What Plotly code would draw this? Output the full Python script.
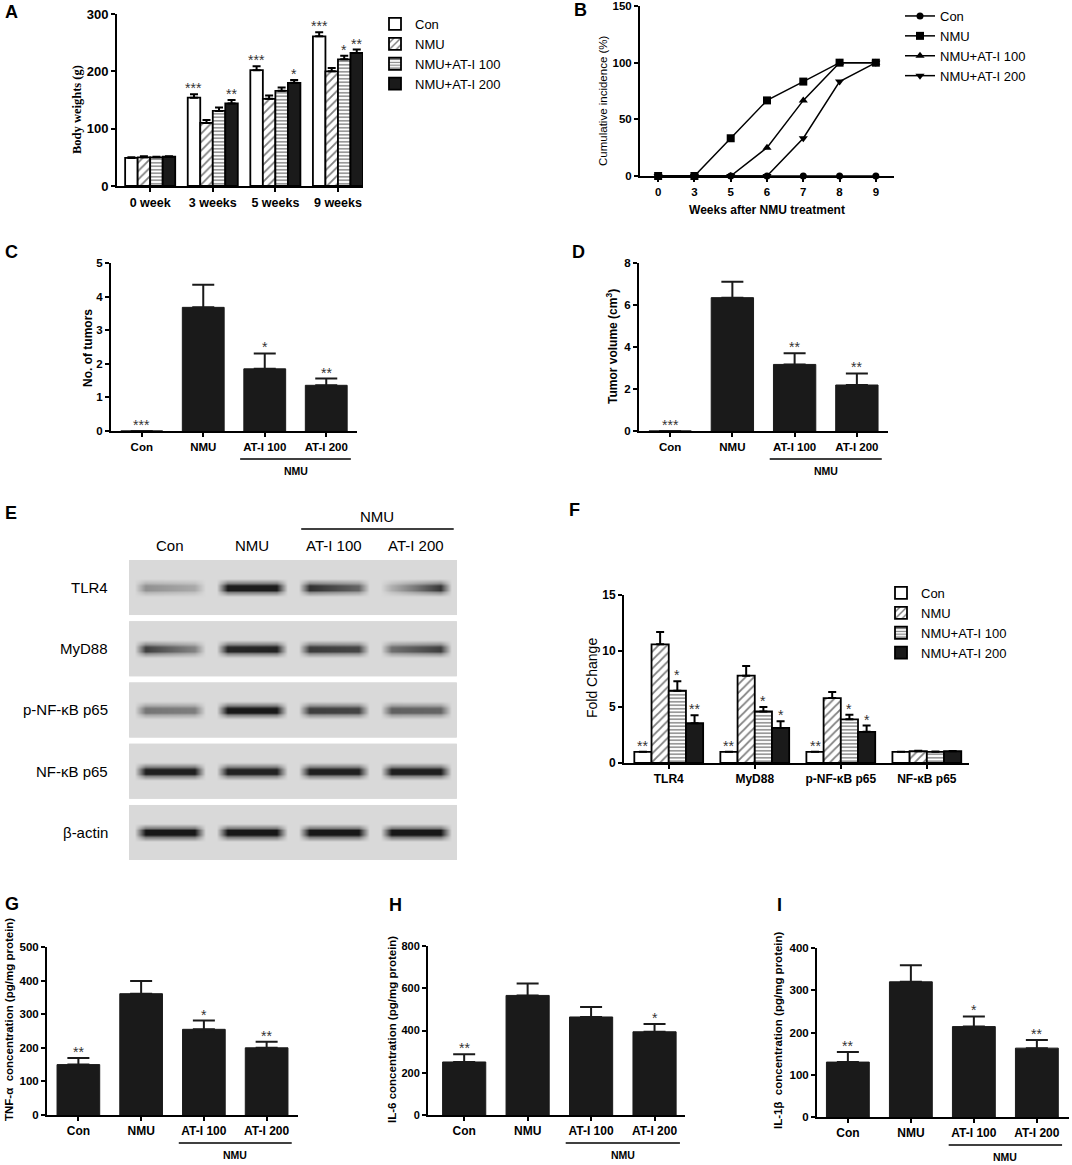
import plotly.graph_objects as go

W, H = 1072, 1165
SANS = "Liberation Sans, Arial, Helvetica, sans-serif"
SERIF = "Liberation Serif, Times New Roman, serif"


def fx(p):
    return p / W


def fy(p):
    return 1 - p / H


# ---------------- data ----------------
series_names = ['Con', 'NMU', 'NMU+AT-I 100', 'NMU+AT-I 200']

A_weeks = ['0 week', '3 weeks', '5 weeks', '9 weeks']
A_con = [49, 154, 202, 261]
A_con_sem = [1, 6, 7, 7]
A_nmu = [50, 110, 152, 200]
A_nmu_sem = [2, 5, 6, 6]
A_at100 = [50, 131, 166, 221]
A_at100_sem = [1, 6, 6, 6]
A_at200 = [51, 144, 180, 232]
A_at200_sem = [1, 6, 5, 6]
A_con_sig = ['', '***', '***', '***']
A_nmu_sig = ['', '', '', '']
A_at100_sig = ['', '', '', '*']
A_at200_sig = ['', '**', '*', '**']

B_weeks = ['0', '3', '5', '6', '7', '8', '9']
B_con = [0, 0, 0, 0, 0, 0, 0]
B_nmu = [0, 0, 33.3, 66.7, 83.3, 100, 100]
B_at100 = [0, 0, 0, 25, 66.7, 100, 100]
B_at200 = [0, 0, 0, 0, 33.3, 83.3, 100]

groups = ['Con', 'NMU', 'AT-I 100', 'AT-I 200']
C_mean = [0, 3.68, 1.85, 1.36]
C_sem = [0, 0.67, 0.46, 0.2]
C_sig = ['***', '', '*', '**']

D_mean = [0, 6.35, 3.17, 2.19]
D_sem = [0, 0.76, 0.53, 0.55]
D_sig = ['***', '', '**', '**']

E_proteins = ['TLR4', 'MyD88', 'p-NF-κB p65', 'NF-κB p65', 'β-actin']
E_lanes = ['Con', 'NMU', 'AT-I 100', 'AT-I 200']
# band darkness (0 = none, 1 = black) for left / right half of each lane
E_TLR4_left = [0.38, 0.95, 0.85, 0.22]
E_TLR4_right = [0.25, 0.95, 0.6, 0.82]
E_MyD88_left = [0.78, 0.9, 0.8, 0.55]
E_MyD88_right = [0.45, 0.92, 0.75, 0.78]
E_pNF_left = [0.52, 0.96, 0.78, 0.62]
E_pNF_right = [0.48, 0.96, 0.76, 0.6]
E_NF_left = [0.93, 0.92, 0.93, 0.94]
E_NF_right = [0.93, 0.92, 0.93, 0.94]
E_actin_left = [0.97, 0.97, 0.97, 0.97]
E_actin_right = [0.97, 0.97, 0.97, 0.97]

F_targets = ['TLR4', 'MyD88', 'p-NF-κB p65', 'NF-κB p65']
F_con = [1, 1, 1, 1]
F_con_sem = [0, 0, 0, 0]
F_nmu = [10.6, 7.8, 5.8, 1.05]
F_nmu_sem = [1.1, 0.85, 0.55, 0.05]
F_at100 = [6.45, 4.6, 3.9, 1.0]
F_at100_sem = [0.85, 0.4, 0.4, 0.03]
F_at200 = [3.55, 3.13, 2.78, 1.05]
F_at200_sem = [0.72, 0.6, 0.56, 0.03]
F_con_sig = ['**', '**', '**', '']
F_nmu_sig = ['', '', '', '']
F_at100_sig = ['*', '*', '*', '']
F_at200_sig = ['**', '*', '*', '']

G_mean = [150, 361, 255, 200]
G_sem = [20, 38, 26, 18]
G_sig = ['**', '', '*', '**']

H_mean = [251, 566, 464, 394]
H_sem = [36, 57, 47, 37]
H_sig = ['**', '', '', '*']

I_mean = [130, 320, 214, 163]
I_sem = [24, 39, 24, 19]
I_sig = ['**', '', '*', '**']

# ---------------- figure scaffolding ----------------
fig = go.Figure()
annotations = []
shapes = []
layout = dict(width=W, height=H, margin=dict(l=0, r=0, t=0, b=0),
              paper_bgcolor='white', plot_bgcolor='white',
              barmode='overlay', showlegend=True)


def axnames(i):
    s = '' if i == 1 else str(i)
    return 'xaxis' + s, 'yaxis' + s, 'x' + s, 'y' + s


BASE = dict(showline=True, linecolor='black', linewidth=2, showgrid=False,
            zeroline=False, ticks='outside', ticklen=4, tickwidth=2,
            tickcolor='black', automargin=False, fixedrange=True)


def set_axes(i, xpx, ypx, xr, yr, ncat, xlabels, ydtick=1,
             ytitle='', ytfont=None, ytx=None, yty=None,
             xtitle='', xtfont=None, xfs=12, yfs=12):
    xs, ys, xa, ya = axnames(i)
    layout[xs] = dict(BASE, domain=[fx(xpx[0]), fx(xpx[1])], range=xr,
                      anchor=ya, tickmode='array',
                      tickvals=list(range(ncat)), ticktext=xlabels,
                      tickfont=dict(family=SANS, size=xfs, color='black',
                                    weight='bold'))
    if xtitle:
        layout[xs]['title'] = dict(text=xtitle, font=xtfont, standoff=9)
    layout[ys] = dict(BASE, domain=[fy(ypx[1]), fy(ypx[0])], range=yr,
                      anchor=xa, dtick=ydtick, tick0=0,
                      tickfont=dict(family=SANS, size=yfs, color='black',
                                    weight='bold'))
    if ytitle:
        annotations.append(dict(x=fx(ytx), y=fy(yty), xref='paper',
                                yref='paper', text=ytitle, textangle=-90,
                                showarrow=False, xanchor='center',
                                yanchor='middle', font=ytfont))


def star(i, x, y, text, yshift=-4, size=14):
    _, _, xa, ya = axnames(i)
    annotations.append(dict(x=x, y=y, xref=xa, yref=ya, text=text,
                            showarrow=False, yanchor='bottom', yshift=yshift,
                            font=dict(family=SANS, size=size, color='#333')))


def nmu_bracket(i, ybottom_px):
    _, _, xa, _ = axnames(i)
    shapes.append(dict(type='line', xref=xa, yref='paper', x0=1.6, x1=3.4,
                       y0=fy(ybottom_px + 28), y1=fy(ybottom_px + 28),
                       line=dict(color='black', width=1.5)))
    annotations.append(dict(x=2.5, y=fy(ybottom_px + 40), xref=xa, yref='paper',
                            text='NMU', showarrow=False, yanchor='middle',
                            font=dict(family=SANS, size=10.5, color='black',
                                      weight='bold')))


def letter(txt, xpx, ypx):
    annotations.append(dict(x=fx(xpx), y=fy(ypx), xref='paper', yref='paper',
                            text=txt, showarrow=False, xanchor='left',
                            yanchor='middle',
                            font=dict(family=SANS, size=18, color='black',
                                      weight='bold')))


LINE = dict(color='black', width=1.8)
STYLES = [
    dict(color='white', line=LINE),
    dict(color='white', line=LINE,
         pattern=dict(shape='/', fgcolor='black', bgcolor='white', size=6,
                      solidity=0.3)),
    dict(color='white', line=LINE,
         pattern=dict(shape='-', fgcolor='black', bgcolor='white', size=3.5,
                      solidity=0.4)),
    dict(color='#1a1a1a', line=LINE),
]


def grouped(i, ncat, vals_list, sem_list, sig_list, legend, gw=0.8):
    _, _, xa, ya = axnames(i)
    n = len(vals_list)
    w = gw / n
    for j in range(n):
        off = -gw / 2 + j * w
        vals, sem = vals_list[j], sem_list[j]
        fig.add_trace(go.Bar(
            x=list(range(ncat)), y=vals, width=w, offset=off,
            xaxis=xa, yaxis=ya, marker=STYLES[j], name=series_names[j],
            legend=legend, showlegend=True, hoverinfo='skip',
            error_y=dict(type='data', array=sem, arrayminus=[0] * ncat,
                         symmetric=False, thickness=2, width=4,
                         color='black')))
        for k, s in enumerate(sig_list[j]):
            if s:
                star(i, k + off + w / 2, vals[k] + sem[k], s)


def single(i, vals, sem, sig):
    _, _, xa, ya = axnames(i)
    n = len(vals)
    fig.add_trace(go.Bar(
        x=list(range(n)), y=vals, width=0.68, xaxis=xa, yaxis=ya,
        marker=dict(color='#1a1a1a', line=dict(color='#1a1a1a', width=1)),
        showlegend=False, hoverinfo='skip',
        error_y=dict(type='data', array=sem, arrayminus=[0] * n,
                     symmetric=False, thickness=2, width=11, color='#1a1a1a')))
    for k, s in enumerate(sig):
        if s:
            star(i, k, vals[k] + sem[k], s)


BOLD12 = dict(family=SANS, size=12, color='black', weight='bold')
BOLD115 = dict(family=SANS, size=11.5, color='black', weight='bold')

# ---------------- Panel A ----------------
set_axes(1, (117, 363), (14, 186), [-0.53, 3.4], [0, 300], 4, A_weeks,
         ydtick=100, ytitle='Body weights (g)',
         ytfont=dict(family=SERIF, size=12.5, color='black', weight='bold'),
         ytx=77, yty=110, xfs=12.5, yfs=13)
grouped(1, 4, [A_con, A_nmu, A_at100, A_at200],
        [A_con_sem, A_nmu_sem, A_at100_sem, A_at200_sem],
        [A_con_sig, A_nmu_sig, A_at100_sig, A_at200_sig], 'legend')
letter('A', 3, 12)

# ---------------- Panel B ----------------
set_axes(2, (640, 894), (6, 176), [-0.5, 6.5], [0, 150], 7, B_weeks,
         ydtick=50, ytitle='Cumulative incidence (%)',
         ytfont=dict(family=SANS, size=11.5, color='black'),
         ytx=603, yty=101,
         xtitle='Weeks after NMU treatment',
         xtfont=dict(family=SANS, size=12, color='black', weight='bold'),
         xfs=11.5, yfs=11.5)
for name, vals, sym, ms in [('Con', B_con, 'circle', 7),
                            ('NMU', B_nmu, 'square', 8),
                            ('NMU+AT-I 100', B_at100, 'triangle-up', 8),
                            ('NMU+AT-I 200', B_at200, 'triangle-down', 8)]:
    fig.add_trace(go.Scatter(
        x=list(range(len(B_weeks))), y=vals, mode='lines+markers',
        xaxis='x2', yaxis='y2', name=name, legend='legend2',
        line=dict(color='black', width=1.5),
        marker=dict(symbol=sym, size=ms, color='black'),
        cliponaxis=False, hoverinfo='skip'))
letter('B', 572, 10)

# ---------------- Panel C ----------------
set_axes(3, (111, 357), (263, 431), [-0.5, 3.5], [0, 5], 4, groups,
         ydtick=1, ytitle='No. of tumors', ytfont=BOLD12, ytx=88, yty=348,
         xfs=11.5, yfs=11.5)
single(3, C_mean, C_sem, C_sig)
nmu_bracket(3, 431)
letter('C', 3, 252)

# ---------------- Panel D ----------------
set_axes(4, (639, 888), (263, 431), [-0.5, 3.5], [0, 8], 4, groups,
         ydtick=2, ytitle='Tumor volume (cm<sup>3</sup>)', ytfont=BOLD12,
         ytx=612, yty=347, xfs=11.5, yfs=11.5)
single(4, D_mean, D_sem, D_sig)
nmu_bracket(4, 431)
letter('D', 570, 252)

# ---------------- Panel E (western blot) ----------------
layout['xaxis5'] = dict(domain=[fx(129), fx(457)], range=[0, 4], visible=False,
                        anchor='y5', fixedrange=True)
layout['yaxis5'] = dict(domain=[fy(863.1), fy(556.9)], range=[4.5, -0.5],
                        visible=False, anchor='x5', fixedrange=True)
E_rows = [(E_TLR4_left, E_TLR4_right), (E_MyD88_left, E_MyD88_right),
          (E_pNF_left, E_pNF_right), (E_NF_left, E_NF_right),
          (E_actin_left, E_actin_right)]
BLOT_BG = '#d9d9d9'
blot_scale = [[0, BLOT_BG], [0.5, '#7a7a7a'], [1, '#111111']]
HALF = 0.449
for k, (lft, rgt) in enumerate(E_rows):
    shapes.append(dict(type='rect', xref='x5', yref='y5', x0=0, x1=4,
                       y0=k - HALF, y1=k + HALF, fillcolor=BLOT_BG,
                       line=dict(width=0), layer='below'))
    xc, band = [], []
    for i in range(len(E_lanes)):
        xc += [i + 0.07, i + 0.2, i + 0.8, i + 0.93]
        band += [0, lft[i], rgt[i], 0]
    bg = [0] * len(xc)
    yedges = [k - HALF, k - 0.22, k - 0.08, k, k + 0.08, k + 0.22, k + HALF]
    fig.add_trace(go.Heatmap(x=xc, y=yedges, z=[bg, bg, band, band, bg, bg],
                             xaxis='x5', yaxis='y5', zmin=0, zmax=1,
                             colorscale=blot_scale, showscale=False,
                             zsmooth='best', hoverinfo='skip'))
    annotations.append(dict(x=fx(110), y=k, xref='paper', yref='y5',
                            text=E_proteins[k], showarrow=False,
                            xanchor='right',
                            font=dict(family=SANS, size=15, color='black')))
for i, lab in enumerate(E_lanes):
    annotations.append(dict(x=i + 0.5, y=fy(545), xref='x5', yref='paper',
                            text=lab, showarrow=False,
                            font=dict(family=SANS, size=15, color='black')))
shapes.append(dict(type='line', xref='x5', yref='paper', x0=2.1, x1=3.96,
                   y0=fy(529), y1=fy(529), line=dict(color='black', width=1.5)))
annotations.append(dict(x=3.03, y=fy(516), xref='x5', yref='paper', text='NMU',
                        showarrow=False,
                        font=dict(family=SANS, size=15, color='black')))
letter('E', 3, 513)

# ---------------- Panel F ----------------
set_axes(6, (624, 969), (595, 763), [-0.52, 3.49], [0, 15], 4, F_targets,
         ydtick=5, ytitle='Fold Change',
         ytfont=dict(family=SANS, size=14, color='black'), ytx=592, yty=678)
grouped(6, 4, [F_con, F_nmu, F_at100, F_at200],
        [F_con_sem, F_nmu_sem, F_at100_sem, F_at200_sem],
        [F_con_sig, F_nmu_sig, F_at100_sig, F_at200_sig], 'legend3')
letter('F', 567, 510)

# ---------------- Panels G, H, I ----------------
set_axes(7, (47, 298), (947, 1115), [-0.5, 3.5], [0, 500], 4, groups,
         ydtick=100, ytitle='TNF-α  concentration (pg/mg protein)',
         ytfont=BOLD115, ytx=9, yty=1020, yfs=11.5)
single(7, G_mean, G_sem, G_sig)
nmu_bracket(7, 1115)
letter('G', 3, 904)

set_axes(8, (428, 685), (946, 1115), [-0.57, 3.48], [0, 800], 4, groups,
         ydtick=200, ytitle='IL-6 concentration (pg/mg protein)',
         ytfont=BOLD115, ytx=392, yty=1030, yfs=11)
single(8, H_mean, H_sem, H_sig)
nmu_bracket(8, 1115)
letter('H', 387, 905)

set_axes(9, (817, 1069), (948, 1117), [-0.49, 3.51], [0, 400], 4, groups,
         ydtick=100, ytitle='IL-1β  concentration (pg/mg protein)',
         ytfont=BOLD115, ytx=778, yty=1030, yfs=11.5)
single(9, I_mean, I_sem, I_sig)
nmu_bracket(9, 1117)
letter('I', 775, 905)

# ---------------- legends ----------------
LEG = dict(xanchor='left', yanchor='top', bgcolor='rgba(0,0,0,0)',
           borderwidth=0, tracegroupgap=0, itemclick=False,
           font=dict(family=SANS, size=13, color='black'))
layout['legend'] = dict(LEG, x=fx(375), y=fy(9))
layout['legend2'] = dict(LEG, x=fx(900), y=fy(1))
layout['legend3'] = dict(LEG, x=fx(881), y=fy(578))

layout['annotations'] = annotations
layout['shapes'] = shapes
fig.update_layout(**layout)
fig.write_html("out.html", config={'displayModeBar': False},
               post_script="document.body.style.margin='0px';")
